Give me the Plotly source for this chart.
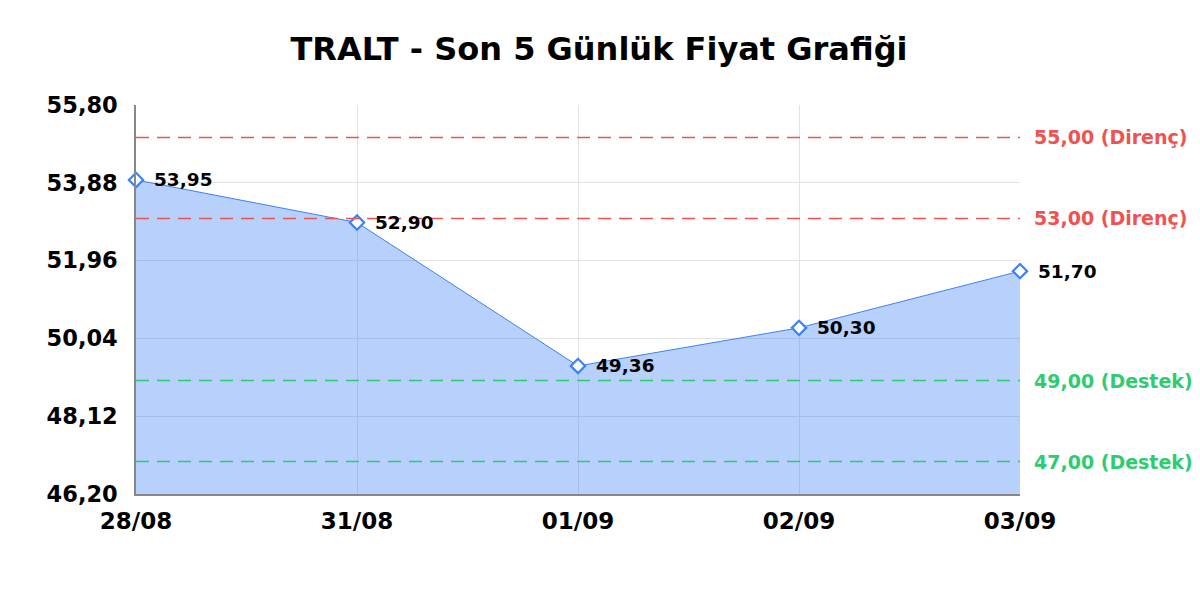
import plotly.graph_objects as go

dates = ["28/08", "31/08", "01/09", "02/09", "03/09"]
prices = [53.95, 52.90, 49.36, 50.30, 51.70]
y_ticks = [46.20, 48.12, 50.04, 51.96, 53.88, 55.80]
resistance = [55.00, 53.00]
support = [49.00, 47.00]

font_family = "DejaVu Sans"
blue = "#3b82f6"
red = "#f05252"
green = "#2ecc71"


def tr(v):
    return f"{v:.2f}".replace(".", ",")


fig = go.Figure()
fig.add_trace(go.Scatter(
    x=dates, y=prices, mode="lines+markers",
    fill="tozeroy", fillcolor="rgba(59,130,246,0.37)",
    line=dict(color=blue, width=1),
    marker=dict(symbol="diamond", size=11, color="white", line=dict(color=blue, width=2.2)),
    cliponaxis=False, showlegend=False, hoverinfo="skip",
))

# value labels next to each point
for d, p in zip(dates, prices):
    fig.add_annotation(x=d, y=p, text=tr(p), showarrow=False, xanchor="left", xshift=16,
                       font=dict(family=font_family, size=18.5, color="black", weight="bold"))

for levels, color, label in [(resistance, red, "Direnç"), (support, green, "Destek")]:
    for lvl in levels:
        fig.add_hline(y=lvl, line=dict(color=color, width=1.5, dash="13px,8px"))
        fig.add_annotation(x=1, xref="paper", y=lvl, yref="y", xanchor="left", xshift=12,
                           text=f"{tr(lvl)} ({label})", showarrow=False,
                           font=dict(family=font_family, size=19, color=color, weight="bold"))

fig.update_layout(
    width=1200, height=600,
    margin=dict(l=128, r=188, t=97, b=114),
    paper_bgcolor="white", plot_bgcolor="white",
    title=dict(text="TRALT - Son 5 Günlük Fiyat Grafiği", x=591 / 1200, xanchor="center",
               y=1 - 41 / 600, yanchor="middle",
               font=dict(family=font_family, size=32, color="black", weight="bold")),
)
fig.update_xaxes(
    type="category", range=[0, len(dates) - 1],
    showgrid=True, gridcolor="#e3e3e3", gridwidth=1,
    showline=True, linecolor="#888", linewidth=1.5,
    ticks="", ticklabelstandoff=6,
    tickfont=dict(family=font_family, size=23, color="black", weight="bold"),
)
fig.update_yaxes(
    range=[y_ticks[0], y_ticks[-1]], tickvals=y_ticks, ticktext=[tr(v) for v in y_ticks],
    showgrid=True, gridcolor="#e3e3e3", gridwidth=1,
    showline=True, linecolor="#888", linewidth=1.5,
    ticks="", ticklabelstandoff=12, zeroline=False,
    tickfont=dict(family=font_family, size=22.5, color="black", weight="bold"),
)

fig.write_html("out.html")
